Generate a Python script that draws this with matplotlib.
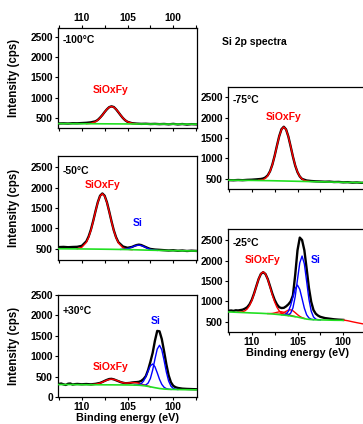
import matplotlib
matplotlib.use("Agg")
import matplotlib.pyplot as plt
from matplotlib.ticker import MultipleLocator

plt.rcParams['font.family'] = ['Liberation Sans', 'DejaVu Sans']
plt.rcParams['font.weight'] = 'bold'
plt.rcParams['axes.labelweight'] = 'bold'

RED = '#ff0000'
BLUE = '#0000ff'
GREEN = '#22e022'

# ---------------- -100 C ----------------
e_m100 = [112.5, 112.0, 111.5, 111.0, 110.5, 110.0, 109.5, 109.0, 108.5, 108.25, 108.0, 107.75, 107.5,
          107.25, 107.0, 106.75, 106.5, 106.25, 106.0, 105.75, 105.5, 105.25, 105.0, 104.5, 104.0, 103.5,
          103.0, 102.5, 102.0, 101.5, 101.0, 100.5, 100.0, 99.5, 99.0, 98.5, 98.0, 97.5]
black_m100 = [362, 365, 360, 368, 366, 372, 378, 390, 415, 450, 505, 570, 645, 712, 765, 785, 768, 712,
              640, 565, 495, 440, 402, 368, 358, 352, 355, 348, 352, 345, 350, 340, 352, 338, 348, 335, 345, 340]
e_red_m100 = [109.5, 109.0, 108.5, 108.25, 108.0, 107.75, 107.5, 107.25, 107.0, 106.75, 106.5, 106.25,
              106.0, 105.75, 105.5, 105.25, 105.0, 104.5, 104.0]
red_m100 = [354, 365, 404, 443, 498, 567, 644, 714, 764, 782, 764, 714, 644, 567, 498, 443, 404, 365, 354]
e_bg_m100 = [112.5, 109.0, 105.0, 101.0, 97.5]
bg_m100 = [358, 355, 350, 347, 345]

# ---------------- -50 C ----------------
e_m50 = [112.5, 112.0, 111.5, 111.0, 110.5, 110.0, 109.5, 109.25, 109.0, 108.75, 108.5, 108.25, 108.0,
         107.75, 107.5, 107.25, 107.0, 106.75, 106.5, 106.25, 106.0, 105.5, 105.0, 104.5, 104.25, 104.0,
         103.75, 103.5, 103.25, 103.0, 102.75, 102.5, 102.0, 101.5, 101.0, 100.5, 100.0, 99.5, 99.0, 98.5,
         98.0, 97.5]
black_m50 = [545, 550, 542, 548, 552, 575, 685, 805, 972, 1185, 1420, 1640, 1800, 1855, 1800, 1640, 1415,
             1175, 955, 785, 665, 560, 528, 550, 575, 595, 605, 595, 570, 545, 520, 500, 485, 478, 470, 462,
             468, 455, 462, 450, 458, 452]
e_red_m50 = [110.5, 110.0, 109.5, 109.25, 109.0, 108.75, 108.5, 108.25, 108.0, 107.75, 107.5, 107.25,
             107.0, 106.75, 106.5, 106.25, 106.0, 105.5, 105.0, 104.5]
red_m50 = [506, 540, 661, 783, 955, 1174, 1414, 1634, 1792, 1848, 1791, 1632, 1410, 1168, 948, 775, 651,
           527, 492, 482]
e_blue_m50 = [105.75, 105.25, 105.0, 104.75, 104.5, 104.25, 104.0, 103.75, 103.5, 103.25, 103.0, 102.75,
              102.5, 102.25, 101.75]
blue_m50 = [489, 496, 507, 524, 547, 570, 587, 592, 583, 562, 536, 510, 490, 477, 465]
e_bg_m50 = [112.5, 110.0, 107.0, 105.0, 103.0, 101.0, 99.0, 97.5]
bg_m50 = [505, 500, 492, 485, 472, 462, 455, 450]

# ---------------- +30 C ----------------
e_p30 = [112.5, 112.25, 112.0, 111.75, 111.5, 111.25, 111.0, 110.75, 110.5, 110.0, 109.5, 109.0, 108.5,
         108.0, 107.75, 107.5, 107.25, 107.0, 106.75, 106.5, 106.25, 106.0, 105.75, 105.5, 105.25, 105.0,
         104.75, 104.5, 104.25, 104.0, 103.75, 103.5, 103.25, 103.0, 102.75, 102.5, 102.25, 102.0, 101.75,
         101.5, 101.25, 101.0, 100.75, 100.5, 100.25, 100.0, 99.75, 99.5, 99.0, 98.5, 98.0, 97.5]
black_p30 = [320, 330, 310, 295, 325, 330, 305, 315, 320, 312, 318, 310, 322,
             345, 368, 395, 420, 440, 445, 432, 410, 388, 365, 350, 338, 340, 345, 355, 362, 365, 372, 395,
             440, 510, 660, 860, 1080, 1380, 1620, 1610, 1420, 1120, 800, 530, 360, 275, 240,
             222, 205, 198, 194, 190]
e_red_p30 = [109.0, 108.5, 108.0, 107.75, 107.5, 107.25, 107.0, 106.75, 106.5, 106.25, 106.0, 105.75,
             105.5, 105.25, 105.0, 104.75, 104.5, 104.25, 104.0, 103.75, 103.5, 103.25, 103.0, 102.5]
red_p30 = [303, 313, 340, 363, 389, 413, 431, 438, 431, 413, 392, 367, 350, 342, 342, 347, 352, 353, 347,
           336, 319, 300, 282, 252]
e_b1_p30 = [103.5, 103.25, 103.0, 102.75, 102.5, 102.25, 102.0, 101.75, 101.5, 101.25, 101.0, 100.75,
            100.5, 100.25, 100.0, 99.75, 99.5]
b1_p30 = [285, 285, 295, 340, 452, 658, 929, 1174, 1268, 1157, 896, 610, 390, 266, 210, 191, 183]
e_b2_p30 = [104.25, 104.0, 103.75, 103.5, 103.25, 103.0, 102.75, 102.5, 102.25, 102.0, 101.75, 101.5,
            101.25, 101.0, 100.75, 100.5, 100.25]
b2_p30 = [292, 295, 303, 328, 387, 495, 637, 764, 809, 742, 595, 433, 310, 238, 205, 192, 186]
e_bg_p30 = [112.5, 111.0, 109.0, 107.0, 105.0, 104.0, 103.5, 103.0, 102.5, 102.0, 101.5, 101.0, 100.5,
            100.0, 99.0, 97.5]
bg_p30 = [305, 305, 300, 298, 295, 290, 285, 270, 250, 228, 208, 195, 188, 185, 180, 176]

# ---------------- -75 C ----------------
e_m75 = [112.5, 112.0, 111.5, 111.0, 110.5, 110.0, 109.5, 109.0, 108.75, 108.5, 108.25, 108.0, 107.75,
         107.5, 107.25, 107.0, 106.75, 106.5, 106.25, 106.0, 105.75, 105.5, 105.25, 105.0, 104.75, 104.5,
         104.0, 103.5, 103.0, 102.5, 102.0, 101.5, 101.0, 100.5, 100.0, 99.5, 99.0, 98.5, 98.0, 97.5]
black_m75 = [472, 468, 475, 470, 478, 482, 490, 500, 512, 538, 590, 690, 850, 1065, 1310, 1545, 1715, 1775,
             1710, 1535, 1295, 1045, 825, 665, 560, 500, 462, 450, 442, 438, 432, 436, 425, 428, 418, 422,
             410, 415, 405, 412]
e_red_m75 = [109.25, 109.0, 108.75, 108.5, 108.25, 108.0, 107.75, 107.5, 107.25, 107.0, 106.75, 106.5,
             106.25, 106.0, 105.75, 105.5, 105.25, 105.0, 104.75, 104.5, 104.25, 104.0, 103.75]
red_m75 = [468, 472, 486, 518, 579, 685, 845, 1060, 1304, 1539, 1708, 1770, 1706, 1534, 1297, 1050, 833,
           670, 562, 498, 464, 448, 441]
e_bg_m75 = [112.5, 110.0, 108.0, 106.0, 104.0, 102.0, 100.0, 97.5]
bg_m75 = [470, 465, 458, 448, 438, 428, 418, 410]

# ---------------- -25 C ----------------
e_m25 = [112.5, 112.25, 112.0, 111.75, 111.5, 111.25, 111.0, 110.75, 110.5, 110.25, 110.0, 109.75, 109.5,
         109.25, 109.0, 108.75, 108.5, 108.25, 108.0, 107.75, 107.5, 107.25, 107.0, 106.75, 106.5, 106.25,
         106.0, 105.75, 105.5, 105.25, 105.0, 104.75, 104.5, 104.25, 104.0, 103.75, 103.5, 103.25, 103.0,
         102.75, 102.5, 102.0, 101.5, 101.0, 100.5, 100.0]
black_m25 = [775, 780, 770, 785, 780, 790, 800, 825, 860, 930, 1040, 1195, 1375, 1550, 1675, 1715, 1670,
             1545, 1370, 1190, 1040, 930, 860, 840, 845, 880, 930, 1000, 1150, 1650, 2250, 2560, 2500, 2250,
             1800, 1330, 990, 790, 700, 655, 625, 595, 580, 565, 556, 550]
e_r1_m25 = [111.5, 111.0, 110.75, 110.5, 110.25, 110.0, 109.75, 109.5, 109.25, 109.0, 108.75, 108.5,
            108.25, 108.0, 107.75, 107.5, 107.25, 107.0, 106.75, 106.5, 106.25, 106.0]
r1_m25 = [738, 749, 773, 817, 897, 1019, 1183, 1370, 1549, 1678, 1724, 1672, 1538, 1354, 1160, 989, 860,
          772, 719, 687, 669, 655]
e_r2_m25 = [108.25, 108.0, 107.75, 107.5, 107.25, 107.0, 106.75, 106.5, 106.25, 106.0, 105.75, 105.5, 105.25]
r2_m25 = [705, 706, 709, 720, 735, 748, 749, 736, 711, 685, 661, 644, 631]
e_r3_m25 = [107.25, 107.0, 106.75, 106.5, 106.25, 106.0, 105.75, 105.5, 105.25, 105.0, 104.75, 104.5, 104.25]
r3_m25 = [689, 691, 703, 727, 760, 790, 797, 773, 728, 679, 636, 606, 586]
e_r4_m25 = [100.0, 99.5, 99.0, 98.5, 98.0, 97.5]
r4_m25 = [548, 530, 505, 482, 460, 440]
e_b1_m25 = [106.25, 106.0, 105.75, 105.5, 105.25, 105.0, 104.75, 104.5, 104.25, 104.0, 103.75, 103.5,
            103.25, 103.0, 102.75, 102.5]
b1_m25 = [664, 672, 714, 843, 1121, 1540, 1943, 2110, 1918, 1490, 1056, 763, 622, 569, 554, 550]
e_b2_m25 = [106.75, 106.5, 106.25, 106.0, 105.75, 105.5, 105.25, 105.0, 104.75, 104.5, 104.25, 104.0,
            103.75, 103.5, 103.25]
b2_m25 = [676, 677, 695, 760, 901, 1111, 1317, 1400, 1295, 1068, 836, 675, 598, 567, 557]
e_bg_m25 = [112.5, 111.0, 110.0, 109.0, 108.0, 107.0, 106.0, 105.0, 104.5, 104.0, 103.5, 103.0, 102.0,
            101.0, 100.0]
bg_m25 = [745, 730, 720, 712, 700, 680, 655, 620, 595, 570, 558, 552, 548, 542, 540]

yticks_std = [500, 1000, 1500, 2000, 2500]
yticks_p30 = [0, 500, 1000, 1500, 2000, 2500]

W, H = 363, 424
fig = plt.figure(figsize=(W / 100, H / 100), dpi=100)


def make_ax(left, top, width, height):
    # pixel box -> figure fraction
    return fig.add_axes([left / W, 1 - (top + height) / H, width / W, height / H])


def style(ax, ylim, yticks, top_labels=False, bottom_labels=False, xlabel=False, ylabel=False):
    ax.set_xlim(112.6, 97.4)
    ax.set_ylim(*ylim)
    ax.set_yticks(yticks)
    ax.xaxis.set_major_locator(MultipleLocator(5))
    ax.xaxis.set_minor_locator(MultipleLocator(2.5))
    ax.tick_params(which='both', direction='out', length=2.3, width=0.8, labelsize=7.4, pad=1.3)
    ax.tick_params(axis='x', which='both', top=top_labels, labeltop=top_labels,
                   bottom=True, labelbottom=bottom_labels)
    for sp in ax.spines.values():
        sp.set_linewidth(0.9)
    if xlabel:
        ax.set_xlabel('Binding energy (eV)', fontsize=7.8, labelpad=1)
    if ylabel:
        ax.set_ylabel('Intensity (cps)', fontsize=8.3)
        ax.yaxis.set_label_coords(-0.27, 0.5)


def tag(ax, txt, y):
    ax.text(0.03, y, txt, transform=ax.transAxes, fontsize=7.5, fontweight='bold',
            ha='left', va='center', color='black')


def lbl(ax, txt, x, y, color):
    ax.text(x, y, txt, fontsize=7.5, fontweight='bold', ha='center', va='center', color=color)


BLK = dict(color='black', lw=1.7, zorder=2)
RD = dict(color=RED, lw=1.0, zorder=3)
BL = dict(color=BLUE, lw=1.0, zorder=3)
GR = dict(color=GREEN, lw=1.2, zorder=4)

# -100 C
ax = make_ax(58, 28, 139, 100)
ax.plot(e_m100, black_m100, **BLK)
ax.plot(e_red_m100, red_m100, **RD)
ax.plot(e_bg_m100, bg_m100, **GR)
style(ax, (250, 2720), yticks_std, top_labels=True, ylabel=True)
tag(ax, '-100°C', 0.88)
lbl(ax, 'SiOxFy', 106.8, 1190, RED)

# -50 C
ax = make_ax(58, 156, 139, 104)
ax.plot(e_m50, black_m50, **BLK)
ax.plot(e_red_m50, red_m50, **RD)
ax.plot(e_blue_m50, blue_m50, **BL)
ax.plot(e_bg_m50, bg_m50, **GR)
style(ax, (230, 2770), yticks_std, ylabel=True)
tag(ax, '-50°C', 0.855)
lbl(ax, 'SiOxFy', 107.7, 2060, RED)
lbl(ax, 'Si', 103.9, 1134, BLUE)

# +30 C
ax = make_ax(58, 295, 139, 102)
ax.plot(e_p30, black_p30, **BLK)
ax.plot(e_red_p30, red_p30, **RD)
ax.plot(e_b1_p30, b1_p30, **BL)
ax.plot(e_b2_p30, b2_p30, **BL)
ax.plot(e_bg_p30, bg_p30, **GR)
style(ax, (0, 2500), yticks_p30, bottom_labels=True, xlabel=True, ylabel=True)
tag(ax, '+30°C', 0.846)
lbl(ax, 'SiOxFy', 106.8, 735, RED)
lbl(ax, 'Si', 101.9, 1862, BLUE)

# -75 C
ax = make_ax(228, 87, 139, 102)
ax.plot(e_m75, black_m75, **BLK)
ax.plot(e_red_m75, red_m75, **RD)
ax.plot(e_bg_m75, bg_m75, **GR)
style(ax, (255, 2745), yticks_std)
tag(ax, '-75°C', 0.87)
lbl(ax, 'SiOxFy', 106.5, 2012, RED)

# -25 C
ax = make_ax(228, 229, 139, 103)
ax.plot(e_m25, black_m25, **BLK)
ax.plot(e_r1_m25, r1_m25, **RD)
ax.plot(e_r2_m25, r2_m25, **RD)
ax.plot(e_r3_m25, r3_m25, **RD)
ax.plot(e_r4_m25, r4_m25, **RD)
ax.plot(e_b1_m25, b1_m25, **BL)
ax.plot(e_b2_m25, b2_m25, **BL)
ax.plot(e_bg_m25, bg_m25, **GR)
style(ax, (255, 2770), yticks_std, bottom_labels=True, xlabel=True)
tag(ax, '-25°C', 0.864)
lbl(ax, 'SiOxFy', 108.8, 2012, RED)
lbl(ax, 'Si', 103.0, 2012, BLUE)

fig.text(222 / W, 1 - 42 / H, 'Si 2p spectra', fontsize=7.5, fontweight='bold',
         ha='left', va='center')

fig.savefig('out.png', dpi=100)
